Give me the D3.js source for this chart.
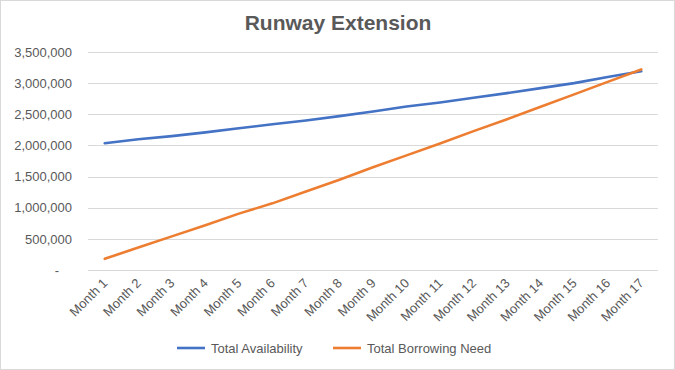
<!DOCTYPE html>
<html><head><meta charset="utf-8">
<script src="https://cdn.jsdelivr.net/npm/d3@7"></script>
<style>
body{margin:0;background:#fff;}
svg{display:block;font-family:"Liberation Sans",Arial,sans-serif;}
</style></head>
<body><svg id="c" width="675" height="370"></svg>
<script>
const categories = ["Month 1","Month 2","Month 3","Month 4","Month 5","Month 6","Month 7","Month 8","Month 9","Month 10","Month 11","Month 12","Month 13","Month 14","Month 15","Month 16","Month 17"];
const totalAvailability = [2035000,2100000,2150000,2210000,2275000,2340000,2400000,2470000,2545000,2625000,2690000,2765000,2840000,2920000,3000000,3100000,3190000];
const totalBorrowingNeed = [180000,360000,540000,720000,905000,1070000,1260000,1450000,1650000,1840000,2030000,2230000,2420000,2620000,2820000,3020000,3220000];
const yTicks = [0,500000,1000000,1500000,2000000,2500000,3000000,3500000];
const seriesNames = ["Total Availability","Total Borrowing Need"];
const colors = ["#4472C4","#ED7D31"];

const svg = d3.select("#c");
const W=675,H=370;
svg.append("rect").attr("x",0.5).attr("y",0.5).attr("width",W-1).attr("height",H-1).attr("fill","#fff").attr("stroke","#d9d9d9");

const m={l:88,r:17,t:52,b:100};
const x=d3.scalePoint().domain(categories).range([m.l,W-m.r]).padding(0.5);
const y=d3.scaleLinear().domain([0,3500000]).range([H-m.b,m.t]);

svg.append("text").attr("x",338).attr("y",30).attr("text-anchor","middle")
  .attr("font-size",21).attr("font-weight","bold").attr("fill","#595959").text("Runway Extension");

// gridlines
svg.append("g").selectAll("line").data(yTicks).join("line")
  .attr("x1",m.l).attr("x2",W-m.r).attr("y1",d=>Math.round(y(d))+0.5).attr("y2",d=>Math.round(y(d))+0.5)
  .attr("stroke","#d9d9d9").attr("stroke-width",1);

const fmt=d3.format(",");
const yAxis=d3.axisLeft(y).tickValues(yTicks).tickSize(0).tickPadding(16).tickFormat(d=>d===0?"-":fmt(d));
const ga=svg.append("g").attr("transform",`translate(${m.l},0)`).call(yAxis);
ga.select(".domain").remove();
ga.selectAll("text").attr("font-size",13).attr("fill","#595959").attr("font-family","'Liberation Sans',Arial,sans-serif");
ga.selectAll("text").filter(d=>d===0).attr("dx",-13);

const xAxis=d3.axisBottom(x).tickSize(0).tickPadding(0);
const gx=svg.append("g").attr("transform",`translate(0,${H-m.b})`).call(xAxis);
gx.select(".domain").remove();
gx.selectAll("text").attr("font-size",13).attr("fill","#595959").attr("font-family","'Liberation Sans',Arial,sans-serif")
  .attr("text-anchor","end").attr("dy",0).attr("y",0)
  .attr("transform","translate(3,14) rotate(-45)");

const line=d3.line().x((d,i)=>x(categories[i])).y(d=>y(d));
[totalAvailability,totalBorrowingNeed].forEach((s,i)=>{
  svg.append("path").datum(s).attr("d",line).attr("fill","none").attr("stroke",colors[i])
    .attr("stroke-width",2.6).attr("stroke-linecap","round").attr("stroke-linejoin","round");
});

// legend
const lx=[177,333];
seriesNames.forEach((n,i)=>{
  svg.append("line").attr("x1",lx[i]).attr("x2",lx[i]+28).attr("y1",348).attr("y2",348)
    .attr("stroke",colors[i]).attr("stroke-width",2.6);
  svg.append("text").attr("x",lx[i]+34).attr("y",352.5).attr("font-size",13).attr("fill","#595959").text(n);
});
</script></body></html>
